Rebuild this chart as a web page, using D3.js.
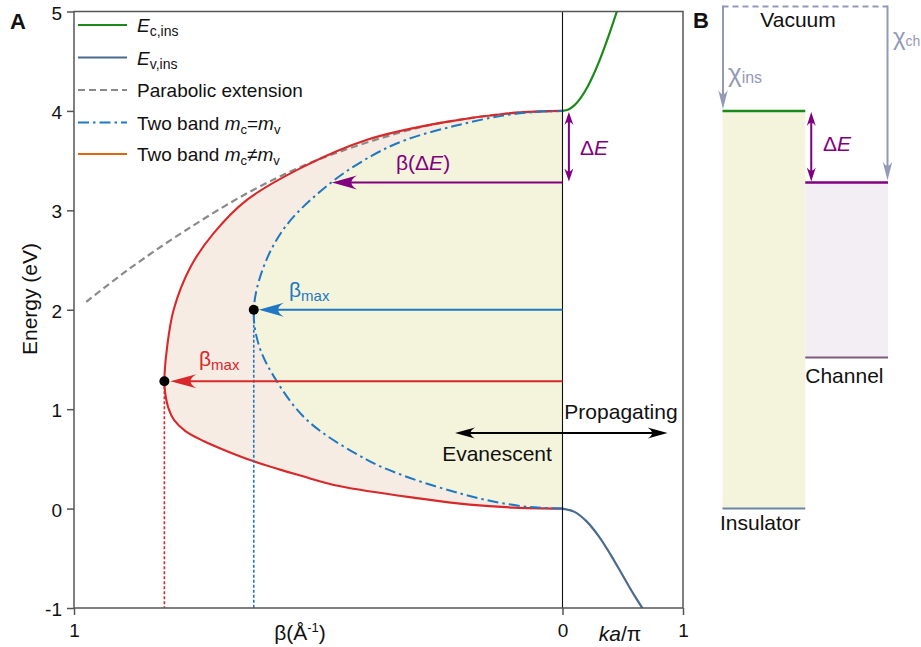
<!DOCTYPE html>
<html>
<head>
<meta charset="utf-8">
<script src="https://cdn.jsdelivr.net/npm/d3@7"></script>
<style>
  html, body { margin: 0; padding: 0; background: #fff; }
  svg { display: block; font-family: "Liberation Sans", Arial, Helvetica, sans-serif; }
</style>
</head>
<body>
<svg id="chart" width="921" height="647"></svg>
<script>
// ---------- data ----------
const energyTicks = [-1, 0, 1, 2, 3, 4, 5];
const betaTicks = [1, 0];
const kaTicks = [1];

// insulator conduction band, ka/π vs energy (eV)
const condK = [0, 0.05, 0.1, 0.15, 0.2, 0.25, 0.3, 0.35, 0.4, 0.45, 0.5];
const condE = [4.0, 4.015, 4.058, 4.129, 4.225, 4.346, 4.486, 4.644, 4.815, 4.996, 5.18];

// insulator valence band
const valK = [0, 0.1, 0.2, 0.3, 0.4, 0.5, 0.6, 0.7];
const valE = [0, -0.033, -0.129, -0.277, -0.465, -0.673, -0.881, -1.07];

// parabolic extension of the conduction band into the gap (E, β in 1/Å)
const parabE    = [2.08, 2.4, 2.8, 3.2, 3.5, 3.8, 3.9, 3.98, 4.0];
const parabBeta = [0.975, 0.890, 0.771, 0.635, 0.505, 0.32, 0.225, 0.10, 0];

// two-band model, equal masses
const equalE    = [0, 0.008, 0.025, 0.073, 0.14, 0.224, 0.34, 0.49, 0.89, 1.33, 1.65, 2.0, 2.43, 2.85, 3.27, 3.55, 3.71, 3.85, 3.95, 3.99, 4.0];
const equalBeta = [0, 0.045, 0.085, 0.144, 0.20, 0.26, 0.33, 0.40, 0.523, 0.591, 0.622, 0.632, 0.612, 0.565, 0.476, 0.39, 0.32, 0.22, 0.125, 0.055, 0];

// two-band model, unequal masses
const unequalE    = [0, 0.01, 0.04, 0.1, 0.224, 0.33, 0.476, 0.58, 0.68, 0.78, 0.89, 1.0, 1.15, 1.28, 1.6, 2.0, 2.435, 2.77, 3.105, 3.44, 3.71, 3.88, 3.98, 4.0];
const unequalBeta = [0, 0.10, 0.19, 0.29, 0.455, 0.535, 0.632, 0.688, 0.735, 0.772, 0.795, 0.806, 0.813, 0.815, 0.81, 0.796, 0.761, 0.714, 0.646, 0.53, 0.40, 0.25, 0.10, 0];

// marked points
const betaMaxEqual   = { E: 2.0,  beta: 0.632 };
const betaMaxUnequal = { E: 1.28, beta: 0.815 };
const betaDeltaE     = { E: 3.28, beta: 0.472 };

// band alignment (panel B), eV
const levelNames  = ["Insulator", "Channel"];
const levelTop    = [4.0, 3.28];
const levelBottom = [0.0, 1.52];
const vacuumLevel = 5.05;

// ---------- layout ----------
const svg = d3.select("#chart");
const plot = { left: 74, right: 683, top: 11.5, bottom: 608 };
const xMid = 562.5;
const font = '"Liberation Sans", Arial, Helvetica, sans-serif';

const y  = d3.scaleLinear().domain([-1, 5]).range([plot.bottom, plot.top]);
const xB = d3.scaleLinear().domain([1, 0]).range([plot.left, xMid]);
const xK = d3.scaleLinear().domain([0, 1]).range([xMid, plot.right]);

const C = {
  green: "#1b8a1b", val: "#4b6a8f", gray: "#8a8a8a", blue: "#1f78c1",
  red: "#d8282a", orange: "#e0650f", purple: "#800080",
  fillY: "#f4f4dc", fillP: "#f7ece3", chi: "#9399b6", chanFill: "#f3edf4"
};

const zip = (a, b) => a.map((v, i) => [v, b[i]]);

svg.append("defs").append("clipPath").attr("id", "plotClip")
  .append("rect").attr("x", plot.left).attr("y", plot.top)
  .attr("width", plot.right - plot.left).attr("height", plot.bottom - plot.top);

const gA = svg.append("g").attr("clip-path", "url(#plotClip)");

// filled decay regions
const gapArea = d3.area().curve(d3.curveCatmullRom.alpha(0.5))
  .y(d => y(d[0])).x0(xB(0)).x1(d => xB(d[1]));
gA.append("path").attr("d", gapArea(zip(unequalE, unequalBeta))).attr("fill", C.fillP);
gA.append("path").attr("d", gapArea(zip(equalE, equalBeta))).attr("fill", C.fillY);

const gapLine = d3.line().curve(d3.curveCatmullRom.alpha(0.5))
  .x(d => xB(d[1])).y(d => y(d[0]));
const bandLine = d3.line().curve(d3.curveCatmullRom.alpha(0.5))
  .x(d => xK(d[0])).y(d => y(d[1]));

gA.append("path").attr("d", gapLine(zip(parabE, parabBeta)))
  .attr("fill", "none").attr("stroke", C.gray).attr("stroke-width", 2.2).attr("stroke-dasharray", "7,4");
gA.append("path").attr("d", gapLine(zip(unequalE, unequalBeta)))
  .attr("fill", "none").attr("stroke", C.red).attr("stroke-width", 2.1);
gA.append("path").attr("d", gapLine(zip(equalE, equalBeta)))
  .attr("fill", "none").attr("stroke", C.blue).attr("stroke-width", 2).attr("stroke-dasharray", "11,4,2.5,4");
gA.append("path").attr("d", bandLine(zip(condK, condE)))
  .attr("fill", "none").attr("stroke", C.green).attr("stroke-width", 2.2);
gA.append("path").attr("d", bandLine(zip(valK, valE)))
  .attr("fill", "none").attr("stroke", C.val).attr("stroke-width", 2.2);

// divider between evanescent and propagating sides
svg.append("line").attr("x1", xMid).attr("x2", xMid).attr("y1", plot.top).attr("y2", plot.bottom)
  .attr("stroke", "#111").attr("stroke-width", 1.1);

// dotted drop lines from the β_max points
[[betaMaxUnequal, C.red], [betaMaxEqual, C.blue]].forEach(([p, c]) => {
  svg.append("line").attr("x1", xB(p.beta)).attr("x2", xB(p.beta))
    .attr("y1", y(p.E)).attr("y2", plot.bottom)
    .attr("stroke", c).attr("stroke-width", 1.6).attr("stroke-dasharray", "3,2");
});

// arrow helpers
function head(g, x, yy, angle, L, W, color) {
  g.append("path")
    .attr("d", `M0,0 L${-L},${-W} Q${-0.55 * L},0 ${-L},${W} Z`)
    .attr("transform", `translate(${x},${yy}) rotate(${angle})`)
    .attr("fill", color);
}
function hArrow(x0, x1, yy, color, L, W, both) {
  const g = svg.append("g");
  const dir = Math.sign(x1 - x0);
  g.append("line").attr("x1", both ? x0 + dir * L * 0.6 : x0).attr("x2", x1 - dir * L * 0.6)
    .attr("y1", yy).attr("y2", yy).attr("stroke", color).attr("stroke-width", 2);
  head(g, x1, yy, dir > 0 ? 0 : 180, L, W, color);
  if (both) head(g, x0, yy, dir > 0 ? 180 : 0, L, W, color);
}
function vArrow(x, y0, y1, color, L, W, both, sw) {
  const g = svg.append("g");
  const dir = Math.sign(y1 - y0);
  g.append("line").attr("x1", x).attr("x2", x)
    .attr("y1", both ? y0 + dir * L * 0.6 : y0).attr("y2", y1 - dir * L * 0.6)
    .attr("stroke", color).attr("stroke-width", sw || 2);
  head(g, x, y1, dir > 0 ? 90 : -90, L, W, color);
  if (both) head(g, x, y0, dir > 0 ? -90 : 90, L, W, color);
}

// β arrows
hArrow(xMid, xB(betaDeltaE.beta), y(betaDeltaE.E), C.purple, 25, 7, false);
hArrow(xMid, xB(betaMaxEqual.beta) + 5, y(betaMaxEqual.E), C.blue, 25, 7, false);
hArrow(xMid, xB(betaMaxUnequal.beta) + 6, y(betaMaxUnequal.E), C.red, 26, 7, false);

// β_max points
[betaMaxEqual, betaMaxUnequal].forEach(p => {
  svg.append("circle").attr("cx", xB(p.beta)).attr("cy", y(p.E)).attr("r", 5).attr("fill", "#000");
});

// evanescent / propagating double arrow
hArrow(xB(0.22), xK(0.872), y(0.76), "#000", 20, 5.5, true);

// ΔE arrow in panel A
vArrow(xK(0.053), y(levelTop[0]) + 1, y(levelTop[1]) - 1, C.purple, 13, 4.5, true);

// ---------- text ----------
function label(x, yy, parts, opts) {
  const t = svg.append("text").attr("x", x).attr("y", yy)
    .attr("font-family", font).attr("font-size", opts.size).attr("fill", opts.color || "#111")
    .attr("text-anchor", opts.anchor || "start");
  parts.forEach(p => {
    const s = t.append("tspan").text(p.t);
    if (p.i) s.attr("font-style", "italic");
    if (p.size) s.attr("font-size", p.size);
    if (p.dy) s.attr("dy", p.dy);
    if (p.b) s.attr("font-weight", "bold");
  });
  return t;
}

label(396, 170, [{ t: "β(Δ" }, { t: "E", i: 1 }, { t: ")" }], { size: 21, color: C.purple });
label(289, 297, [{ t: "β" }, { t: "max", size: 15, dy: 4 }], { size: 21, color: C.blue });
label(199, 366, [{ t: "β" }, { t: "max", size: 15, dy: 4 }], { size: 21, color: C.red });
label(580, 155, [{ t: "Δ" }, { t: "E", i: 1 }], { size: 21, color: C.purple });
label(621, 419, [{ t: "Propagating" }], { size: 21, anchor: "middle" });
label(497, 461, [{ t: "Evanescent" }], { size: 21, anchor: "middle" });

// ---------- axes ----------
const axisColor = "#555";
const yAxis = svg.append("g").attr("transform", `translate(${plot.left},0)`)
  .call(d3.axisLeft(y).tickValues(energyTicks).tickSize(7).tickPadding(5).tickFormat(d => String(d)));
const xAxisB = svg.append("g").attr("transform", `translate(0,${plot.bottom})`)
  .call(d3.axisBottom(xB).tickValues(betaTicks).tickSize(7).tickPadding(5).tickFormat(d => String(d)));
const xAxisK = svg.append("g").attr("transform", `translate(0,${plot.bottom})`)
  .call(d3.axisBottom(xK).tickValues(kaTicks).tickSize(7).tickPadding(5).tickFormat(d => String(d)));
[yAxis, xAxisB, xAxisK].forEach(g => {
  g.select(".domain").remove();
  g.selectAll(".tick line").attr("stroke", axisColor).attr("stroke-width", 1.5);
  g.selectAll(".tick text").attr("font-family", font).attr("font-size", 19).attr("fill", "#111");
});
yAxis.selectAll(".tick text").attr("dy", "0.4em");
[xAxisB, xAxisK].forEach(g => g.selectAll(".tick text").attr("dy", "0.9em"));

// frame
svg.append("rect").attr("x", plot.left).attr("y", plot.top)
  .attr("width", plot.right - plot.left).attr("height", plot.bottom - plot.top)
  .attr("fill", "none").attr("stroke", axisColor).attr("stroke-width", 1.5);

label(37, 299, [{ t: "Energy (eV)" }], { size: 21, anchor: "middle" })
  .attr("transform", "rotate(-90,37,299)");
label(300, 640, [{ t: "β(Å" }, { t: "-1", size: 13, dy: -8 }, { t: ")", dy: 8 }], { size: 21, anchor: "middle" });
label(620, 641, [{ t: "ka", i: 1 }, { t: "/π" }], { size: 21, anchor: "middle" });

// ---------- legend ----------
const legendRows = [
  { y: 25,    stroke: C.green,  dash: null,    parts: [{ t: "E", i: 1 }, { t: "c,ins", size: 14, dy: 4 }] },
  { y: 57.5,  stroke: C.val,    dash: null,    parts: [{ t: "E", i: 1 }, { t: "v,ins", size: 14, dy: 4 }] },
  { y: 90,    stroke: C.gray,   dash: "7,4",   parts: [{ t: "Parabolic extension" }] },
  { y: 122.5, stroke: C.blue,   dash: "11,4,2.5,4", parts: [{ t: "Two band " }, { t: "m", i: 1 }, { t: "c", size: 13, dy: 4 }, { t: "=", dy: -4 }, { t: "m", i: 1 }, { t: "v", size: 13, dy: 4 }] },
  { y: 154,   stroke: C.orange, dash: null,    parts: [{ t: "Two band " }, { t: "m", i: 1 }, { t: "c", size: 13, dy: 4 }, { t: "≠", dy: -4 }, { t: "m", i: 1 }, { t: "v", size: 13, dy: 4 }] }
];
legendRows.forEach(r => {
  const ln = svg.append("line").attr("x1", 78).attr("x2", 127).attr("y1", r.y).attr("y2", r.y)
    .attr("stroke", r.stroke).attr("stroke-width", 2.2);
  if (r.dash) ln.attr("stroke-dasharray", r.dash);
  label(137, r.y + 7, r.parts, { size: 19 });
});

// panel letters
label(10, 29, [{ t: "A" }], { size: 22 }).attr("font-weight", "bold");
label(693, 28, [{ t: "B" }], { size: 22 }).attr("font-weight", "bold");

// ---------- panel B: band alignment ----------
const xL = d3.scaleBand().domain(levelNames).range([722.5, 888]).paddingInner(0).paddingOuter(0);
const fills = [C.fillY, C.chanFill];
const topColors = [C.green, C.purple];
const bottomColors = ["#6b86a4", "#7d5b7a"];
levelNames.forEach((n, i) => {
  svg.append("rect").attr("x", xL(n)).attr("y", y(levelTop[i]))
    .attr("width", xL.bandwidth()).attr("height", y(levelBottom[i]) - y(levelTop[i]))
    .attr("fill", fills[i]);
  svg.append("line").attr("x1", xL(n)).attr("x2", xL(n) + xL.bandwidth())
    .attr("y1", y(levelTop[i])).attr("y2", y(levelTop[i]))
    .attr("stroke", topColors[i]).attr("stroke-width", 2.5);
  svg.append("line").attr("x1", xL(n)).attr("x2", xL(n) + xL.bandwidth())
    .attr("y1", y(levelBottom[i])).attr("y2", y(levelBottom[i]))
    .attr("stroke", bottomColors[i]).attr("stroke-width", 2);
});

// vacuum level and electron affinities
svg.append("line").attr("x1", xL("Insulator")).attr("x2", xL("Channel") + xL.bandwidth())
  .attr("y1", y(vacuumLevel)).attr("y2", y(vacuumLevel))
  .attr("stroke", C.chi).attr("stroke-width", 2).attr("stroke-dasharray", "6,4");
vArrow(xL("Insulator") + 0.5, y(vacuumLevel) - 1, y(levelTop[0]) - 2, C.chi, 19, 4.8, false, 2);
vArrow(xL("Channel") + xL.bandwidth() - 0.5, y(vacuumLevel) - 1, y(levelTop[1]) - 2, C.chi, 19, 4.8, false, 2);

// band offset
vArrow(xL("Channel") + 6, y(levelTop[0]) + 1, y(levelTop[1]) - 1, C.purple, 14, 4.5, true);
label(823, 151, [{ t: "Δ" }, { t: "E", i: 1 }], { size: 21, color: C.purple });

label(798, 27, [{ t: "Vacuum" }], { size: 21, anchor: "middle" });
label(728, 82, [{ t: "χ", size: 26 }, { t: "ins", size: 16, dy: 1 }], { size: 21, color: C.chi });
label(893, 45, [{ t: "χ", size: 24 }, { t: "ch", size: 14, dy: 1 }], { size: 21, color: C.chi });
label(xL("Channel"), 383, [{ t: "Channel" }], { size: 21 });
label(720, 530, [{ t: "Insulator" }], { size: 21 });
</script>
</body>
</html>
